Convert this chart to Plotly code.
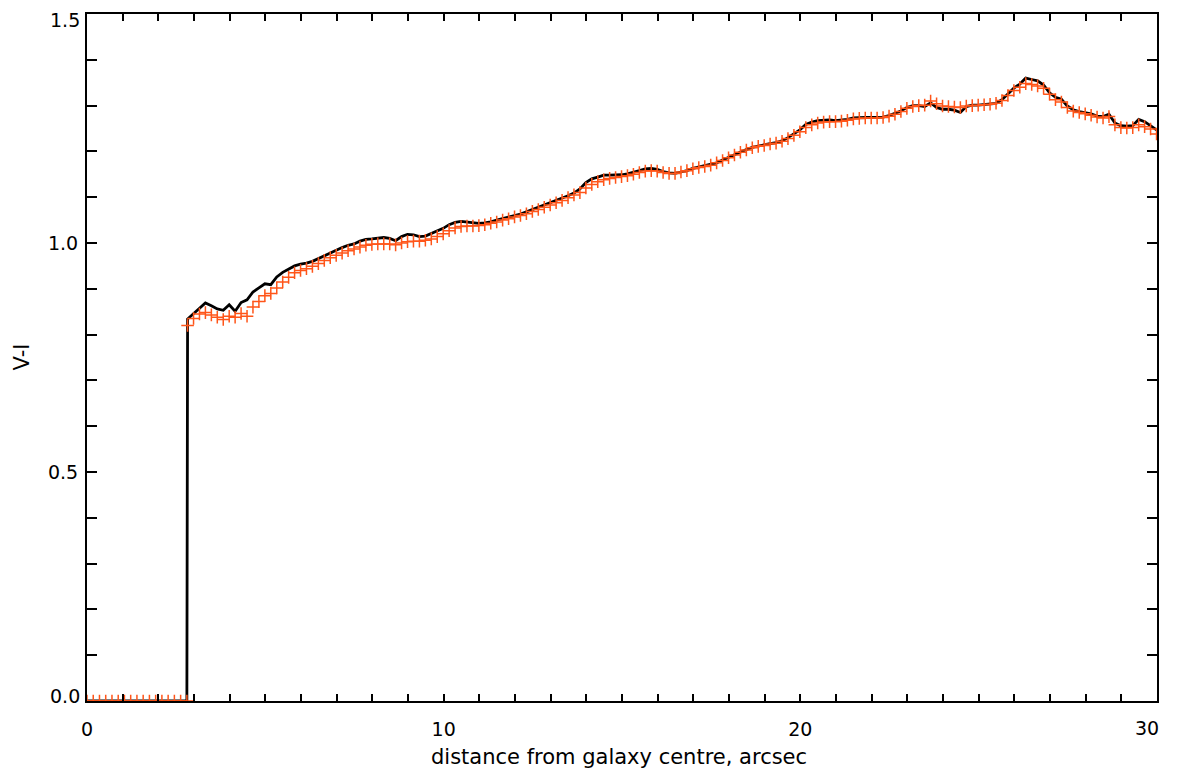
import plotly.graph_objects as go

# ---- data ----
x_zero = [0.0, 0.175, 0.35, 0.525, 0.70, 0.875, 1.05, 1.225, 1.40, 1.575,
          1.75, 1.925, 2.10, 2.275, 2.45, 2.625, 2.80]
y_zero = [0.0] * 17

x_start = 2.82
x_step = 1.0 / 6.0

vi_black = [
    0.834, 0.846, 0.858, 0.869, 0.863, 0.856, 0.853, 0.865, 0.851, 0.870,
    0.876, 0.893, 0.902, 0.911, 0.909, 0.926, 0.936, 0.943, 0.950, 0.954,
    0.956, 0.960, 0.966, 0.972, 0.979, 0.985, 0.990, 0.995, 0.998, 1.004,
    1.008, 1.009, 1.011, 1.012, 1.010, 1.005, 1.014, 1.019, 1.018, 1.014,
    1.015, 1.021, 1.026, 1.032, 1.040, 1.045, 1.047, 1.046, 1.044, 1.043,
    1.044, 1.046, 1.050, 1.053, 1.056, 1.060, 1.063, 1.068, 1.073, 1.077,
    1.082, 1.087, 1.092, 1.097, 1.103, 1.109, 1.118, 1.132, 1.140, 1.144,
    1.148, 1.148, 1.148, 1.149, 1.151, 1.154, 1.158, 1.162, 1.163, 1.161,
    1.156, 1.153, 1.152, 1.155, 1.158, 1.163, 1.166, 1.168, 1.171, 1.175,
    1.181, 1.187, 1.193, 1.199, 1.204, 1.209, 1.212, 1.214, 1.217, 1.219,
    1.223, 1.230, 1.238, 1.247, 1.259, 1.264, 1.267, 1.268, 1.269, 1.267,
    1.268, 1.270, 1.273, 1.274, 1.274, 1.274, 1.274, 1.275, 1.278, 1.283,
    1.288, 1.296, 1.300, 1.300, 1.298, 1.306, 1.296, 1.292, 1.292, 1.290,
    1.285, 1.298, 1.301, 1.301, 1.302, 1.304, 1.305, 1.313, 1.326, 1.338,
    1.347, 1.360, 1.357, 1.354, 1.345, 1.328, 1.318, 1.314, 1.299, 1.291,
    1.287, 1.284, 1.282, 1.277, 1.276, 1.281, 1.262, 1.256, 1.255, 1.256,
    1.270, 1.265, 1.256, 1.247,
]

vi_orange = [
    0.820, 0.835, 0.845, 0.848, 0.843, 0.838, 0.833, 0.840, 0.838, 0.846,
    0.840, 0.860, 0.872, 0.885, 0.890, 0.902, 0.915, 0.925, 0.935, 0.940,
    0.944, 0.949, 0.955, 0.962, 0.968, 0.973, 0.978, 0.983, 0.987, 0.991,
    0.995, 0.997, 0.998, 0.998, 0.998, 0.996, 1.000, 1.003, 1.004, 1.004,
    1.006, 1.009, 1.014, 1.020, 1.027, 1.033, 1.036, 1.037, 1.037, 1.038,
    1.040, 1.043, 1.046, 1.050, 1.053, 1.057, 1.060, 1.064, 1.069, 1.073,
    1.078, 1.083, 1.088, 1.093, 1.099, 1.105, 1.110, 1.120, 1.128, 1.134,
    1.138, 1.141, 1.143, 1.145, 1.147, 1.150, 1.154, 1.157, 1.158, 1.157,
    1.154, 1.152, 1.152, 1.155, 1.158, 1.162, 1.165, 1.167, 1.170, 1.175,
    1.180, 1.186, 1.192, 1.198, 1.203, 1.208, 1.211, 1.213, 1.216, 1.218,
    1.222, 1.228, 1.235, 1.243, 1.252, 1.258, 1.262, 1.264, 1.265, 1.265,
    1.266, 1.268, 1.271, 1.272, 1.273, 1.273, 1.273, 1.274, 1.277, 1.281,
    1.287, 1.294, 1.298, 1.300, 1.301, 1.310, 1.304, 1.299, 1.298, 1.297,
    1.296, 1.299, 1.300, 1.301, 1.302, 1.303, 1.305, 1.311, 1.322, 1.333,
    1.340, 1.348, 1.346, 1.343, 1.338, 1.325, 1.313, 1.308, 1.296, 1.288,
    1.285, 1.282, 1.279, 1.275, 1.273, 1.276, 1.258, 1.252, 1.251, 1.252,
    1.258, 1.254, 1.249, 1.238,
]

x_main = [round(x_start + i * x_step, 3) for i in range(len(vi_black))]

x_all = x_zero + x_main
black_all = y_zero + vi_black
orange_all = y_zero + vi_orange

x_ticks = [0, 10, 20, 30]
x_tick_text = ["0", "10", "20", "30"]
y_ticks = [0.0, 0.5, 1.0, 1.5]
y_tick_text = ["0.0", "0.5", "1.0", "1.5"]

x_title = "distance from galaxy centre, arcsec"
y_title = "V-I"

FONT = "DejaVu Sans"
TICK_SIZE = 19

fig = go.Figure()
fig.add_trace(go.Scatter(
    x=x_all, y=black_all, mode="lines",
    line=dict(color="black", width=2.8),
    hoverinfo="skip", showlegend=False,
))
fig.add_trace(go.Scatter(
    x=x_all, y=orange_all, mode="markers",
    marker=dict(symbol="cross-thin", size=9,
                line=dict(color="rgb(255,85,25)", width=1.5)),
    hoverinfo="skip", showlegend=False,
))

# edge tick labels are nudged inward (as in the original), drawn as annotations
fig.add_annotation(
    text=y_tick_text[-1], xref="paper", yref="y", x=0, y=y_ticks[-1],
    xanchor="right", yanchor="middle", xshift=-5, yshift=-6,
    showarrow=False, font=dict(family=FONT, size=TICK_SIZE, color="black"),
)
fig.add_annotation(
    text=y_tick_text[0], xref="paper", yref="y", x=0, y=y_ticks[0],
    xanchor="right", yanchor="middle", xshift=-5, yshift=5,
    showarrow=False, font=dict(family=FONT, size=TICK_SIZE, color="black"),
)
fig.add_annotation(
    text=x_tick_text[-1], xref="x", yref="paper", x=x_ticks[-1], y=0,
    xanchor="center", yanchor="middle", xshift=-10, yshift=-27,
    showarrow=False, font=dict(family=FONT, size=TICK_SIZE, color="black"),
)

fig.add_annotation(
    text=x_title, xref="paper", yref="paper", x=0.5, y=0,
    xanchor="center", yanchor="middle", xshift=-3, yshift=-56,
    showarrow=False, font=dict(family=FONT, size=21, color="black"),
)
fig.add_annotation(
    text=y_title, xref="paper", yref="paper", x=0, y=0.5,
    xanchor="center", yanchor="middle", xshift=-66, textangle=-90,
    showarrow=False, font=dict(family=FONT, size=21, color="black"),
)

fig.update_layout(
    width=1171, height=763,
    margin=dict(l=79, r=22, t=6, b=70, autoexpand=False),
    paper_bgcolor="white", plot_bgcolor="white",
    font=dict(family=FONT, size=TICK_SIZE, color="black"),
    xaxis=dict(
        range=[0, 30], tickvals=x_ticks, ticktext=x_tick_text[:-1] + [""],
        ticks="inside", ticklen=7, tickwidth=1.5, tickcolor="black",
        minor=dict(dtick=1, ticks="inside", ticklen=7, tickwidth=1.5, tickcolor="black"),
        showline=True, linecolor="black", linewidth=2, mirror="allticks",
        showgrid=False, zeroline=False, automargin=False,
        ticklabelstandoff=10, ticklabeloverflow="allow",
        tickfont=dict(family=FONT, size=TICK_SIZE),
    ),
    yaxis=dict(
        range=[0, 1.5], tickvals=y_ticks, ticktext=[""] + y_tick_text[1:-1] + [""],
        ticks="inside", ticklen=10, tickwidth=1.5, tickcolor="black",
        minor=dict(dtick=0.1, ticks="inside", ticklen=10, tickwidth=1.5, tickcolor="black"),
        showline=True, linecolor="black", linewidth=2, mirror="allticks",
        showgrid=False, zeroline=False, automargin=False,
        ticklabelstandoff=3, ticklabeloverflow="allow",
        tickfont=dict(family=FONT, size=TICK_SIZE),
    ),
)

fig.write_html("out.html")
